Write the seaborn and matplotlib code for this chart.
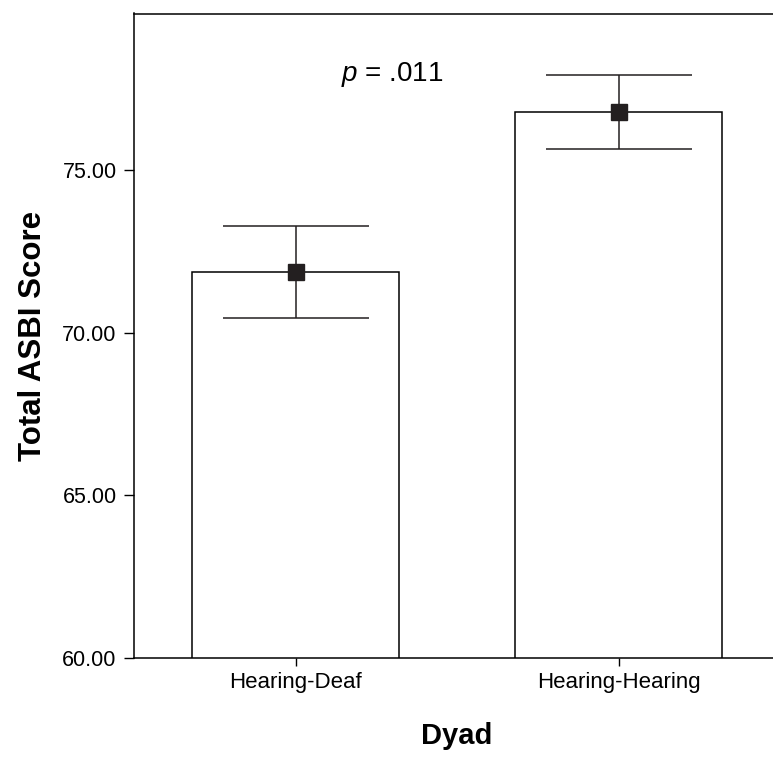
import matplotlib
matplotlib.use("Agg")
import matplotlib.pyplot as plt
import seaborn as sns
import pandas as pd

# values
dyads = ["Hearing-Deaf", "Hearing-Hearing"]
mean_scores = [71.87, 76.79]
error_half = [1.42, 1.14]
y_ticks = [60, 65, 70, 75]
p_text = r"$p$ = .011"

sns.set_theme(style="ticks")
plt.rcParams["font.family"] = ["Liberation Sans", "DejaVu Sans"]
plt.rcParams["mathtext.fontset"] = "custom"
plt.rcParams["mathtext.it"] = "Liberation Sans:italic"
plt.rcParams["mathtext.rm"] = "Liberation Sans"
plt.rcParams["text.color"] = "black"
plt.rcParams["axes.labelcolor"] = "black"
plt.rcParams["xtick.color"] = "black"
plt.rcParams["ytick.color"] = "black"

df = pd.DataFrame({"Dyad": dyads, "Score": mean_scores})

fig = plt.figure(figsize=(7.73, 7.59), dpi=100)
ax = fig.add_axes([134 / 773, 1 - 658 / 759, 646 / 773, 644.5 / 759])

sns.barplot(data=df, x="Dyad", y="Score", color="white", edgecolor="black",
            linewidth=1.1, width=0.641, errorbar=None, ax=ax)

# error bars + mean markers
ax.errorbar(range(len(dyads)), mean_scores, yerr=error_half, fmt="s",
            color="#231f20", ms=11.5, elinewidth=1.1,
            capsize=52.5, capthick=1.1, zorder=5)

ax.set_xlim(-0.5, 1.5)
ax.set_ylim(60, 79.81)
ax.set_yticks(y_ticks)
ax.set_yticklabels([f"{v:.2f}" for v in y_ticks])

ax.text(0.3, 77.72, p_text, fontsize=20, ha="center", va="baseline")

ax.set_xlabel("Dyad", fontsize=21, fontweight="bold", labelpad=21)
ax.set_ylabel("Total ASBI Score", fontsize=22.5, fontweight="bold", labelpad=10)

for side in ["left", "top", "bottom", "right"]:
    ax.spines[side].set_color("black")
    ax.spines[side].set_linewidth(1.1)

ax.tick_params(axis="y", length=7, width=1.0, labelsize=15.5, pad=5.5)
ax.tick_params(axis="x", length=6, width=1.0, labelsize=16, pad=4)

fig.savefig("out.png", dpi=100)
